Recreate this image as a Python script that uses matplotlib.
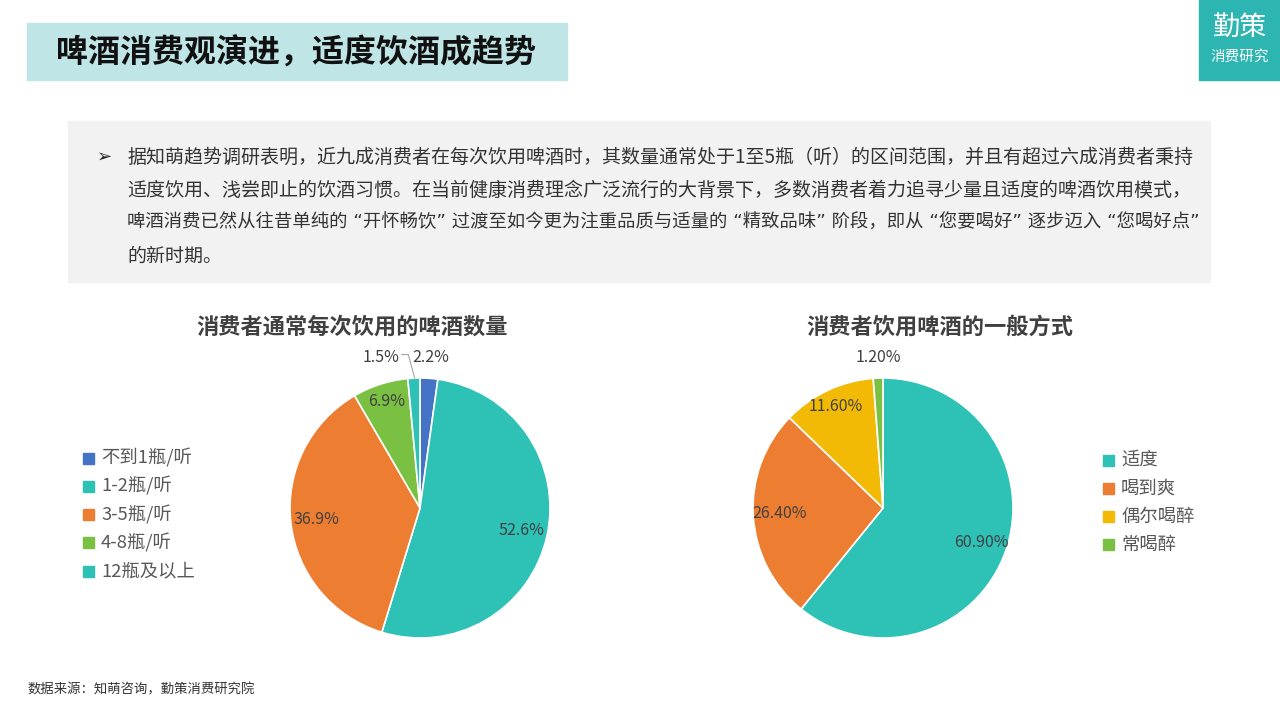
import numpy as np
import matplotlib.pyplot as plt
from matplotlib.patches import Rectangle

plt.rcParams['font.family'] = ['Noto Sans CJK SC', 'DejaVu Sans']

# 数据
left_labels = ['不到1瓶/听', '1-2瓶/听', '3-5瓶/听', '4-8瓶/听', '12瓶及以上']
left_values = [2.2, 52.6, 36.9, 6.9, 1.5]
left_colors = ['#4472C4', '#2EC1B5', '#ED7D31', '#7AC143', '#2EC1B5']
left_text = ['2.2%', '52.6%', '36.9%', '6.9%', '1.5%']

right_labels = ['适度', '喝到爽', '偶尔喝醉', '常喝醉']
right_values = [60.9, 26.4, 11.6, 1.2]
right_colors = ['#2EC1B5', '#ED7D31', '#F2BA05', '#7AC143']
right_text = ['60.90%', '26.40%', '11.60%', '1.20%']

W, H = 1280, 720
fig = plt.figure(figsize=(12.8, 7.2), dpi=100)
fig.patch.set_facecolor('white')

def px(x, y):
    return x / W, 1 - y / H

def box(x0, y0, x1, y1, color):
    fig.patches.append(Rectangle((x0 / W, 1 - y1 / H), (x1 - x0) / W, (y1 - y0) / H,
                                 transform=fig.transFigure, color=color, zorder=0))

# 标题
box(27, 23, 567, 80, '#BFE5E7')
fig.text(*px(56, 54), '啤酒消费观演进，适度饮酒成趋势', fontsize=23, fontweight='bold',
         color='#111111', va='center', ha='left')

# logo
box(1199, 0, 1280, 80, '#2DB5B1')
fig.text(*px(1240, 28), '勤策', fontsize=19.5, fontweight='medium', color='white', ha='center', va='center')
fig.text(*px(1240, 57), '消费研究', fontsize=10.5, color='white', ha='center', va='center')

# 说明文字
box(68, 121, 1210, 282, '#F2F2F2')
lines = [
    '据知萌趋势调研表明，近九成消费者在每次饮用啤酒时，其数量通常处于1至5瓶（听）的区间范围，并且有超过六成消费者秉持',
    '适度饮用、浅尝即止的饮酒习惯。在当前健康消费理念广泛流行的大背景下，多数消费者着力追寻少量且适度的啤酒饮用模式，',
    '啤酒消费已然从往昔单纯的 “开怀畅饮” 过渡至如今更为注重品质与适量的 “精致品味” 阶段，即从 “您要喝好” 逐步迈入 “您喝好点”',
    '的新时期。',
]
fig.text(*px(97, 157), '➢', fontsize=13, color='#222222', va='center', family=['DejaVu Sans'])
for i, ln in enumerate(lines):
    if '“' in ln:
        fam = ['DejaVu Sans', 'Noto Sans CJK SC']
        fs = 13.2
    else:
        fam = ['Noto Sans CJK SC', 'DejaVu Sans']
        fs = 13.7
    fig.text(*px(127, 157 + i * 33), ln, fontsize=fs, color='#333333', va='center', ha='left',
             family=fam)

# 来源
fig.text(*px(28, 689), '数据来源：知萌咨询，勤策消费研究院', fontsize=9.6, color='#333333', va='center')

R = 130
lab_font = dict(fontsize=11.5, color='#404040')

def draw_pie(cx, cy, values, colors, texts, outside, title, tx):
    ax = fig.add_axes([(cx - R) / W, 1 - (cy + R) / H, 2 * R / W, 2 * R / H])
    ax.pie(values, colors=colors, startangle=90, counterclock=False, radius=1,
           wedgeprops=dict(edgecolor='white', linewidth=1.2))
    ax.set_xlim(-1, 1)
    ax.set_ylim(-1, 1)
    ax.set_aspect('equal')
    ax.axis('off')
    ang = 90 - np.cumsum([0] + values[:-1]) * 3.6 - np.array(values) * 1.8
    for i, t in enumerate(texts):
        a = np.deg2rad(ang[i])
        if i in outside:
            d = outside[i]
            if d is None:
                ax.text(1.16 * np.cos(a), 1.16 * np.sin(a), t, ha='center', va='center', **lab_font)
            else:
                ax.text(d[0], d[1], t, ha='right', va='center', **lab_font)
                ex, ey = np.cos(a), np.sin(a)
                ax.plot([d[0] + 0.02, d[0] + 0.07, ex], [d[1] + 0.02, d[1] + 0.02, ey],
                        color='#A6A6A6', lw=0.8, clip_on=False)
        else:
            r = 0.8
            if values[i] < 15:
                r = 0.86
            ax.text(r * np.cos(a), r * np.sin(a), t, ha='center', va='center', **lab_font)
    fig.text(*px(tx, 327), title, fontsize=16, fontweight='bold', color='#404040', ha='center', va='center')
    return ax

draw_pie(420, 508, left_values, left_colors, left_text, {0: None, 4: (-0.16, 1.16)},
         '消费者通常每次饮用的啤酒数量', 352)
draw_pie(883, 508, right_values, right_colors, right_text, {3: None},
         '消费者饮用啤酒的一般方式', 940)

def legend(x, y0, labels, colors):
    for i, (l, c) in enumerate(zip(labels, colors)):
        y = y0 + i * 28.3
        box(x - 5.5, y - 5.5, x + 5.5, y + 5.5, c)
        fig.text(*px(x + 13, y), l, fontsize=13.2, color='#595959', va='center', ha='left')

legend(88, 458, left_labels, left_colors)
legend(1108, 460, right_labels, right_colors)

fig.savefig('out.png', dpi=100, facecolor='white')
